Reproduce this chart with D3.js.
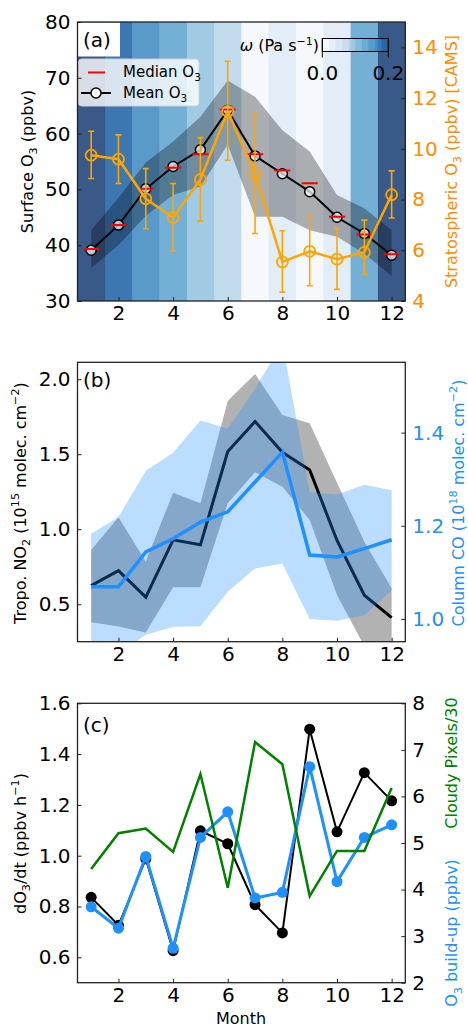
<!DOCTYPE html>
<html><head><meta charset="utf-8">
<script src="https://cdn.jsdelivr.net/npm/d3@7"></script>
<style>body{margin:0;background:#fff} svg{display:block} text{font-family:"DejaVu Sans",sans-serif}</style>
</head><body><svg id="c" width="468" height="1029"></svg>
<script>
// ---------- data ----------
const months = [1,2,3,4,5,6,7,8,9,10,11,12];
const xTicks = [2,4,6,8,10,12];
// panel (a)
const omega    = [0.2, 0.172, 0.138, 0.116, 0.086, 0.062, 0.004, 0.028, 0.004, 0.028, 0.116, 0.2];
const meanO3   = [39.1, 43.6, 50.1, 54.1, 57.1, 64.2, 56.0, 52.8, 49.6, 45.0, 42.1, 38.2];
const medianO3 = [39.3, 43.6, 50.1, 53.9, 56.3, 64.3, 56.3, 53.4, 51.1, 45.1, 41.9, 38.4];
const o3Low    = [35.9, 40.0, 45.3, 49.0, 50.5, 58.0, 45.1, 45.1, 42.7, 41.5, 38.5, 34.5];
const o3High   = [42.7, 48.5, 54.8, 58.6, 63.0, 69.5, 66.6, 60.6, 56.8, 49.0, 46.6, 42.7];
const stratO3  = [9.75, 9.59, 8.03, 7.29, 8.79, 11.48, 9.01, 5.54, 5.96, 5.65, 5.92, 8.19];
const stratHi  = [10.69, 10.55, 9.22, 8.63, 10.44, 13.45, 11.35, 6.77, 7.36, 6.86, 7.19, 9.13];
const stratLo  = [8.83, 8.63, 6.86, 5.98, 7.15, 9.55, 6.66, 4.35, 4.60, 4.46, 5.06, 7.27];
const aLeftTicks = [30,40,50,60,70,80];
const aRightTicks = [4,6,8,10,12,14];
const cbTicks = [0.0, 0.2];
// panel (b)
const no2   = [0.624, 0.724, 0.547, 0.929, 0.896, 1.518, 1.718, 1.513, 1.395, 0.925, 0.56, 0.41];
const no2Hi = [0.862, 1.08, 0.784, 1.244, 1.173, 1.855, 2.035, 1.762, 1.707, 1.31, 0.917, 0.607];
const no2Lo = [0.38, 0.351, 0.311, 0.613, 0.613, 1.173, 1.38, 1.284, 1.062, 0.562, 0.22, 0.15];
const co    = [1.069, 1.069, 1.144, 1.172, 1.208, 1.230, 1.294, 1.358, 1.137, 1.133, 1.151, 1.170];
const coHi  = [1.183, 1.219, 1.318, 1.357, 1.426, 1.409, 1.494, 1.593, 1.272, 1.267, 1.288, 1.276];
const coLo  = [0.94, 0.925, 0.966, 0.983, 0.984, 1.058, 1.108, 1.119, 1.0, 0.996, 1.008, 1.061];
const bLeftTicks = [0.5,1.0,1.5,2.0];
const bRightTicks = [1.0,1.2,1.4];
// panel (c)
const dO3dt   = [0.836, 0.726, 0.988, 0.626, 1.098, 1.047, 0.807, 0.696, 1.498, 1.094, 1.327, 1.216];
const buildup = [3.63, 3.17, 4.71, 2.74, 5.12, 5.67, 3.82, 3.94, 6.64, 4.17, 5.12, 5.39];
const cloudy  = [4.44, 5.21, 5.31, 4.81, 6.48, 4.04, 7.17, 6.69, 3.86, 4.83, 4.83, 6.18];
const cLeftTicks = [0.6,0.8,1.0,1.2,1.4,1.6];
const cRightTicks = [2,3,4,5,6,7,8];

// ---------- layout ----------
const svg = d3.select("#c");
const X0 = 77.5, X1 = 405.3;
const x = d3.scaleLinear().domain([0.5, 12.5]).range([X0, X1]);
const P = { a:[22, 301], b:[362.3, 641.7], c:[703.3, 982.7] };
const FS = 20, LFS = 16;
const ORANGE = "#ffa500", ORANGE_T = "#ff8c00", BLUE = "#1e90ff", GREEN = "#008000";
const blues = d3.piecewise(d3.interpolateRgb, d3.schemeBlues[9]);

function clip(id, top, bot){
  svg.append("clipPath").attr("id", id).append("rect")
    .attr("x", X0).attr("y", top).attr("width", X1 - X0).attr("height", bot - top);
  return svg.append("g").attr("clip-path", `url(#${id})`);
}
function rich(t, parts, fs){
  let shift = 0;
  parts.forEach(p => {
    const [s, type] = Array.isArray(p) ? p : [p, "n"];
    let target = 0, size = fs;
    if (type === "sub"){ target = 0.28*fs; size = fs*0.7; }
    if (type === "sup"){ target = -0.42*fs; size = fs*0.7; }
    t.append("tspan").attr("dy", target - shift).attr("font-size", size).text(s);
    shift = target;
  });
  return t;
}
function vlabel(xc, yc, parts, color, fs){
  const t = svg.append("text").attr("transform", `translate(${xc + fs*0.36},${yc}) rotate(-90)`)
    .attr("text-anchor", "middle").attr("fill", color).attr("font-size", fs);
  rich(t, parts, fs);
}
function axes(top, bot, yL, yR, lt, rt, lfmt, rfmt, rcolor){
  const gx = svg.append("g").attr("transform", `translate(0,${bot})`)
    .call(d3.axisBottom(x).tickValues(xTicks).tickSize(-4).tickPadding(5).tickFormat(d3.format("d")));
  const gl = svg.append("g").attr("transform", `translate(${X0},0)`)
    .call(d3.axisLeft(yL).tickValues(lt).tickSize(-4).tickPadding(7).tickFormat(lfmt));
  const gr = svg.append("g").attr("transform", `translate(${X1},0)`)
    .call(d3.axisRight(yR).tickValues(rt).tickSize(-4).tickPadding(7).tickFormat(rfmt));
  [gx, gl, gr].forEach(g => {
    g.select(".domain").remove();
    g.selectAll("text").attr("font-size", FS).attr("font-family", '"DejaVu Sans",sans-serif').attr("fill", "#000");
    g.selectAll("line").attr("stroke", "#222").attr("stroke-width", 1);
  });
  gr.selectAll("text").attr("fill", rcolor);
  svg.append("rect").attr("x", X0).attr("y", top).attr("width", X1 - X0).attr("height", bot - top)
    .attr("fill", "none").attr("stroke", "#222").attr("stroke-width", 1.3);
}

// ---------- panel (a) ----------
{
  const [top, bot] = P.a;
  const yL = d3.scaleLinear().domain([30, 80]).range([bot, top]);
  const yR = d3.scaleLinear().domain([4, 15]).range([bot, top]);
  const g = clip("ca", top, bot);
  const col = d3.scaleLinear().domain([0, 0.2]).range([0, 1]).clamp(true);
  g.selectAll("rect.strip").data(months).join("rect")
    .attr("x", d => x(d - 0.5)).attr("width", x(1.5) - x(0.5) + 0.3)
    .attr("y", top).attr("height", bot - top)
    .attr("fill", (d, i) => blues(col(omega[i]))).attr("fill-opacity", 0.8);
  g.append("path").datum(months).attr("fill", "#000").attr("fill-opacity", 0.3)
    .attr("d", d3.area().x(d => x(d)).y0((d, i) => yL(o3Low[i])).y1((d, i) => yL(o3High[i])));
  g.append("path").datum(months).attr("fill", "none").attr("stroke", "#000").attr("stroke-width", 2)
    .attr("d", d3.line().x(d => x(d)).y((d, i) => yL(meanO3[i])));
  g.selectAll("circle.mean").data(months).join("circle")
    .attr("cx", d => x(d)).attr("cy", (d, i) => yL(meanO3[i])).attr("r", 5)
    .attr("fill", "#fff").attr("fill-opacity", 0.7).attr("stroke", "#000").attr("stroke-width", 1.5);
  g.selectAll("line.med").data(months).join("line")
    .attr("x1", d => x(d) - 8).attr("x2", d => x(d) + 8)
    .attr("y1", (d, i) => yL(medianO3[i])).attr("y2", (d, i) => yL(medianO3[i]))
    .attr("stroke", "#ff0000").attr("stroke-width", 2);
  // stratospheric O3 (right axis)
  g.selectAll("line.eb").data(months).join("line")
    .attr("x1", d => x(d)).attr("x2", d => x(d))
    .attr("y1", (d, i) => yR(stratLo[i])).attr("y2", (d, i) => yR(stratHi[i]))
    .attr("stroke", ORANGE).attr("stroke-width", 1.6);
  [stratLo, stratHi].forEach(arr => {
    g.selectAll(null).data(months).join("line")
      .attr("x1", d => x(d) - 3).attr("x2", d => x(d) + 3)
      .attr("y1", (d, i) => yR(arr[i])).attr("y2", (d, i) => yR(arr[i]))
      .attr("stroke", ORANGE).attr("stroke-width", 1.6);
  });
  g.append("path").datum(months).attr("fill", "none").attr("stroke", ORANGE).attr("stroke-width", 2.5)
    .attr("d", d3.line().x(d => x(d)).y((d, i) => yR(stratO3[i])));
  g.selectAll("circle.st").data(months).join("circle")
    .attr("cx", d => x(d)).attr("cy", (d, i) => yR(stratO3[i])).attr("r", 5.5)
    .attr("fill", "none").attr("stroke", ORANGE).attr("stroke-width", 1.8);

  // (a) label box
  svg.append("rect").attr("x", X0 + 0.5).attr("y", top + 0.5).attr("width", 42).attr("height", 34).attr("fill", "#fff");
  svg.append("text").attr("x", 83).attr("y", 47).attr("font-size", FS).text("(a)");
  // legend
  svg.append("rect").attr("x", 78.5).attr("y", 59).attr("width", 120.5).attr("height", 47).attr("rx", 3)
    .attr("fill", "#fff").attr("fill-opacity", 0.8).attr("stroke", "#d0d0d0").attr("stroke-width", 1);
  svg.append("line").attr("x1", 88).attr("x2", 105).attr("y1", 72.5).attr("y2", 72.5).attr("stroke", "#ff0000").attr("stroke-width", 2);
  rich(svg.append("text").attr("x", 123).attr("y", 77).attr("font-size", 15), ["Median O", ["3","sub"]], 15);
  svg.append("line").attr("x1", 81).attr("x2", 111).attr("y1", 93).attr("y2", 93).attr("stroke", "#000").attr("stroke-width", 2);
  svg.append("circle").attr("cx", 96).attr("cy", 93).attr("r", 5).attr("fill", "#fff").attr("stroke", "#000").attr("stroke-width", 1.5);
  rich(svg.append("text").attr("x", 123).attr("y", 97.5).attr("font-size", 15), ["Mean O", ["3","sub"]], 15);
  // colorbar
  const cbx0 = 322.3, cbx1 = 388.3, cby = 38.5, cbh = 13;
  const bins = d3.range(10);
  const cbx = d3.scaleLinear().domain([0, 0.2]).range([cbx0, cbx1]);
  svg.selectAll("rect.cb").data(bins).join("rect")
    .attr("x", d => cbx(d*0.02)).attr("width", cbx(0.02) - cbx(0) + 0.2)
    .attr("y", cby).attr("height", cbh)
    .attr("fill", d => blues(col(d*0.02)*0.85)).attr("fill-opacity", 0.8);
  svg.append("rect").attr("x", cbx0).attr("y", cby).attr("width", cbx1 - cbx0).attr("height", cbh)
    .attr("fill", "none").attr("stroke", "#000").attr("stroke-width", 1);
  cbTicks.forEach(v => {
    svg.append("line").attr("x1", cbx(v)).attr("x2", cbx(v)).attr("y1", cby).attr("y2", cby + cbh + 6).attr("stroke", "#000").attr("stroke-width", 1);
    svg.append("text").attr("x", cbx(v)).attr("y", 80).attr("text-anchor", "middle").attr("font-size", FS).text(d3.format(".1f")(v));
  });
  const wt = svg.append("text").attr("x", 319).attr("y", 51).attr("text-anchor", "end").attr("font-size", LFS);
  wt.append("tspan").attr("font-style", "italic").text("ω");
  wt.append("tspan").text(" (Pa s");
  wt.append("tspan").attr("dy", -6).attr("font-size", 11).text("−1");
  wt.append("tspan").attr("dy", 6).text(")");

  axes(top, bot, yL, yR, aLeftTicks, aRightTicks, d3.format("d"), d3.format("d"), ORANGE_T);
  vlabel(27, (top + bot)/2, ["Surface O", ["3","sub"], " (ppbv)"], "#000", LFS);
  vlabel(451, (top + bot)/2, ["Stratospheric O", ["3","sub"], " (ppbv) [CAMS]"], ORANGE_T, LFS);
}

// ---------- panel (b) ----------
{
  const [top, bot] = P.b;
  const yL = d3.scaleLinear().domain([0.25, 2.113]).range([bot, top]);
  const yR = d3.scaleLinear().domain([0.951, 1.551]).range([bot, top]);
  const g = clip("cb", top, bot);
  g.append("path").datum(months).attr("fill", "#000").attr("fill-opacity", 0.3)
    .attr("d", d3.area().x(d => x(d)).y0((d, i) => yL(no2Lo[i])).y1((d, i) => yL(no2Hi[i])));
  g.append("path").datum(months).attr("fill", "none").attr("stroke", "#000").attr("stroke-width", 3)
    .attr("d", d3.line().x(d => x(d)).y((d, i) => yL(no2[i])));
  g.append("path").datum(months).attr("fill", BLUE).attr("fill-opacity", 0.3)
    .attr("d", d3.area().x(d => x(d)).y0((d, i) => yR(coLo[i])).y1((d, i) => yR(coHi[i])));
  g.append("path").datum(months).attr("fill", "none").attr("stroke", BLUE).attr("stroke-width", 3.5)
    .attr("d", d3.line().x(d => x(d)).y((d, i) => yR(co[i])));
  svg.append("text").attr("x", 83).attr("y", 386.5).attr("font-size", FS).text("(b)");
  axes(top, bot, yL, yR, bLeftTicks, bRightTicks, d3.format(".1f"), d3.format(".1f"), BLUE);
  vlabel(20, (top + bot)/2 + 1, ["Tropo. NO", ["2","sub"], " (10", ["15","sup"], " molec. cm", ["−2","sup"], ")"], "#000", LFS);
  vlabel(458, (top + bot)/2 + 1, ["Column CO (10", ["18","sup"], " molec. cm", ["−2","sup"], ")"], BLUE, LFS);
}

// ---------- panel (c) ----------
{
  const [top, bot] = P.c;
  const yL = d3.scaleLinear().domain([0.5, 1.6]).range([bot, top]);
  const yR = d3.scaleLinear().domain([2, 8]).range([bot, top]);
  const gAll = svg.append("g");
  gAll.append("path").datum(months).attr("fill", "none").attr("stroke", "#000").attr("stroke-width", 2)
    .attr("d", d3.line().x(d => x(d)).y((d, i) => yL(dO3dt[i])));
  gAll.selectAll("circle.k").data(months).join("circle")
    .attr("cx", d => x(d)).attr("cy", (d, i) => yL(dO3dt[i])).attr("r", 5.5).attr("fill", "#000");
  gAll.append("path").datum(months).attr("fill", "none").attr("stroke", BLUE).attr("stroke-width", 3)
    .attr("d", d3.line().x(d => x(d)).y((d, i) => yR(buildup[i])));
  gAll.selectAll("circle.b").data(months).join("circle")
    .attr("cx", d => x(d)).attr("cy", (d, i) => yR(buildup[i])).attr("r", 5.5).attr("fill", BLUE);
  gAll.append("path").datum(months).attr("fill", "none").attr("stroke", GREEN).attr("stroke-width", 2.5)
    .attr("d", d3.line().x(d => x(d)).y((d, i) => yR(cloudy[i])));
  svg.append("text").attr("x", 83).attr("y", 731.5).attr("font-size", FS).text("(c)");
  axes(top, bot, yL, yR, cLeftTicks, cRightTicks, d3.format(".1f"), d3.format("d"), "#000");
  vlabel(20, 843.5, ["dO", ["3","sub"], "/dt (ppbv h", ["−1","sup"], ")"], "#000", LFS);
  vlabel(451.5, 763, ["Cloudy Pixels/30"], GREEN, LFS);
  vlabel(451.5, 933, ["O", ["3","sub"], " build-up (ppbv)"], BLUE, LFS);
  svg.append("text").attr("x", 241).attr("y", 1024).attr("text-anchor", "middle").attr("font-size", LFS).text("Month");
}
</script></body></html>
